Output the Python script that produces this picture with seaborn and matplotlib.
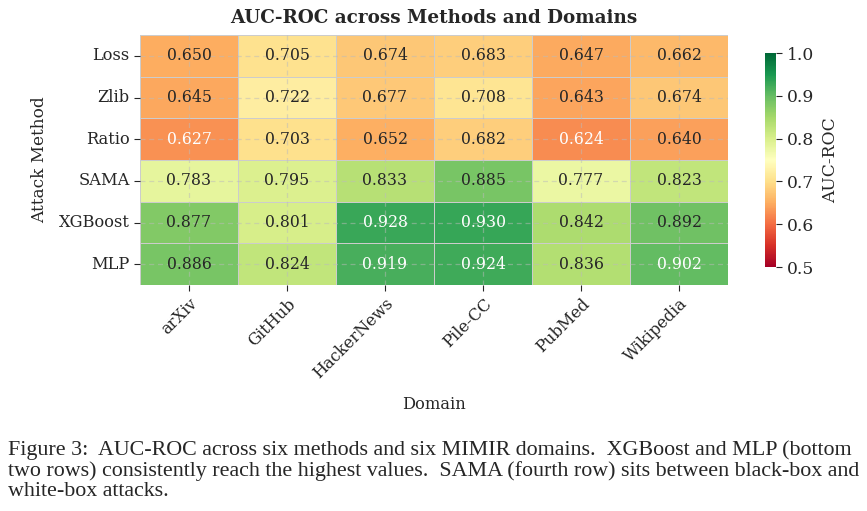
import numpy as np
import pandas as pd
import seaborn as sns
import matplotlib.pyplot as plt

methods = ["Loss", "Zlib", "Ratio", "SAMA", "XGBoost", "MLP"]
domains = ["arXiv", "GitHub", "HackerNews", "Pile-CC", "PubMed", "Wikipedia"]
loss = [0.650, 0.705, 0.674, 0.683, 0.647, 0.662]
zlib = [0.645, 0.722, 0.677, 0.708, 0.643, 0.674]
ratio = [0.627, 0.703, 0.652, 0.682, 0.624, 0.640]
sama = [0.783, 0.795, 0.833, 0.885, 0.777, 0.823]
xgboost = [0.877, 0.801, 0.928, 0.930, 0.842, 0.892]
mlp = [0.886, 0.824, 0.919, 0.924, 0.836, 0.902]

caption = ("Figure 3:  AUC-ROC across six methods and six MIMIR domains.  XGBoost and MLP (bottom\n"
           "two rows) consistently reach the highest values.  SAMA (fourth row) sits between black-box and\n"
           "white-box attacks.")

df = pd.DataFrame([loss, zlib, ratio, sama, xgboost, mlp], index=methods, columns=domains)

sns.set_style("ticks")
plt.rcParams['font.family'] = ['DejaVu Serif']

fig = plt.figure(figsize=(8.67, 5.11), dpi=100)
ax = fig.add_axes([140/867, 1-285/511, 588/867, 250/511])
cax = fig.add_axes([765/867, 1-267/511, 11/867, 214/511])

sns.heatmap(df, ax=ax, cbar_ax=cax, cmap="RdYlGn", vmin=0.5, vmax=1.0,
            annot=True, fmt=".3f", annot_kws={"fontsize": 11.3},
            linewidths=0.6, linecolor="#cccccc",
            cbar_kws={"label": "AUC-ROC"})

# white text on the darkest cells, as in the original
for t in ax.texts:
    v = float(t.get_text())
    t.set_color("white" if (v < 0.63 or v > 0.9) else "#262626")

ax.grid(True, linestyle="--", color="#bbbbbb", alpha=0.5, linewidth=0.9, dashes=(4, 3))
ax.set_axisbelow(False)
ax.set_title("AUC-ROC across Methods and Domains", fontsize=13.2, fontweight="bold", pad=9)
ax.set_xlabel("Domain", fontsize=11.7, labelpad=10)
ax.set_ylabel("Attack Method", fontsize=12.2, labelpad=8)
ax.tick_params(axis="both", length=4, labelsize=11.7)
plt.setp(ax.get_xticklabels(), rotation=45, ha="right", rotation_mode="anchor")
plt.setp(ax.get_yticklabels(), rotation=0)

cax.tick_params(labelsize=12.3, length=4)
cax.set_ylabel("AUC-ROC", fontsize=12.3, labelpad=6)
cax.set_yticks([0.5, 0.6, 0.7, 0.8, 0.9, 1.0])
for s in cax.spines.values():
    s.set_visible(False)

fig.text(8/867, 1-440/511, caption, fontsize=15.8, family="Liberation Serif",
         va="top", ha="left", linespacing=1.08)

fig.savefig("out.png", dpi=100)
